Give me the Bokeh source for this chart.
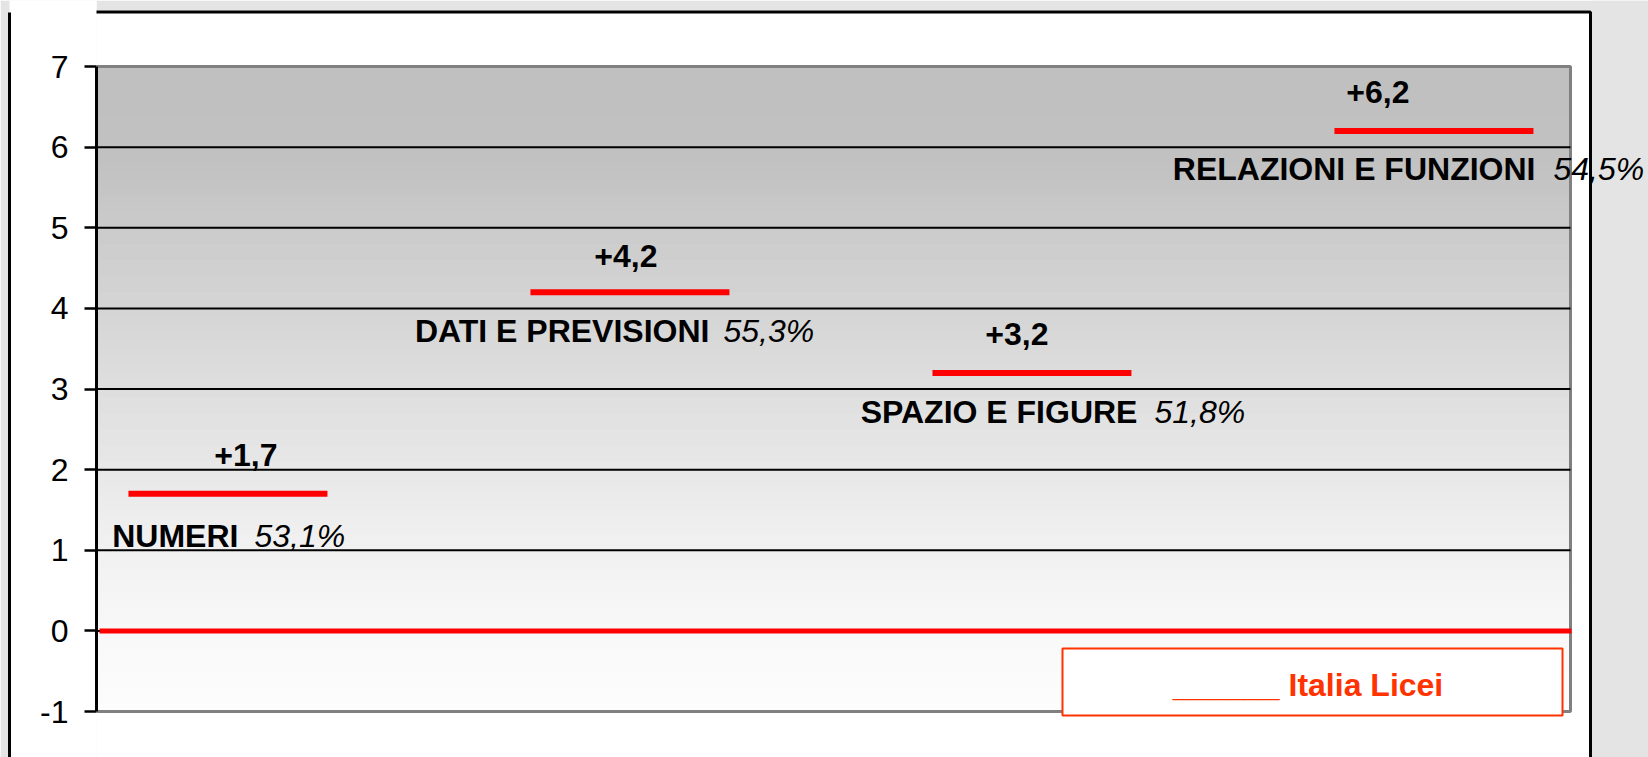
from bokeh.plotting import figure
from bokeh.models import Label, BoxAnnotation, FixedTicker, Range1d, LinearAxis
from bokeh.embed import file_html
from bokeh.resources import INLINE

# ---------------- data ----------------
categories = ["NUMERI", "DATI E PREVISIONI", "SPAZIO E FIGURE", "RELAZIONI E FUNZIONI"]
values = [1.7, 4.2, 3.2, 6.2]
percentages = ["53,1%", "55,3%", "51,8%", "54,5%"]
italia_baseline = 0.0
legend_text = "______  Italia Licei"
y_ticks = [-1, 0, 1, 2, 3, 4, 5, 6, 7]

# ---------------- style ----------------
value_dx = [18, -4, -15, -56]          # px, label centre relative to segment centre
value_dy = [39, 36, 39, 39]            # px above the value (visual centre)
name_end_dx = [10.5, 79.5, 105.5, 101.5]
pct_start_dx = [26.5, 93.5, 122.5, 119.5]
name_dy = [-42, -39, -39.5, -38]
seg_half = 0.2475

FONT = "Liberation Sans"
FS = "32px"
W, H = 1648, 757
OUT_GREY = "#e4e4e4"

# page-pixel <-> data helpers (used only for decorations)
PLOT_L, PLOT_T = 96, 66
PX_X, PX_Y = 402.0, 80.625
X0 = -0.327
def dx(px):
    return X0 + (px - PLOT_L) / PX_X
def dy(py):
    return 7 - (py - PLOT_T) / PX_Y

PLOT_R = dx(1570)

p = figure(width=W, height=H, output_backend="svg", toolbar_location=None,
           x_range=Range1d(dx(PLOT_L), dx(W)), y_range=Range1d(dy(H), dy(0)),
           x_axis_type=None,
           min_border_left=PLOT_L, min_border_right=0, min_border_top=0, min_border_bottom=0)

p.background_fill_color = "white"
p.border_fill_color = "white"
p.outline_line_color = None
p.ygrid.visible = False
p.xgrid.visible = False

# gradient background of the plot area
stops = [(-1.0, 253), (0.0, 248), (1.0, 241), (2.0, 232), (3.0, 222), (4.0, 213), (5.0, 203), (5.8, 193), (7.0, 192)]
def grey_at(y):
    for (y0, c0), (y1, c1) in zip(stops[:-1], stops[1:]):
        if y0 <= y <= y1:
            t = (y - y0) / (y1 - y0)
            return int(round(c0 + (c1 - c0) * t))
    return stops[-1][1]
n = 80
for k in range(n):
    b = -1 + 8 * k / n
    t = -1 + 8 * (k + 1) / n
    g = grey_at((b + t) / 2)
    p.add_layout(BoxAnnotation(bottom=b, top=min(t + 0.02, 7), right=PLOT_R, fill_color=(g, g, g),
                               fill_alpha=1, line_color=None, level="image"))

# grey surroundings (outside the white slide frame)
p.add_layout(BoxAnnotation(left=dx(1591.5), fill_color=OUT_GREY, fill_alpha=1, line_color=None, level="image"))
p.add_layout(BoxAnnotation(bottom=dy(10), fill_color=OUT_GREY, fill_alpha=1, line_color=None, level="image"))

# plot-area border (grey)
p.add_layout(BoxAnnotation(right=PLOT_R, top=7, bottom=-1, fill_color=None, fill_alpha=0,
                           line_color="#808080", line_width=3, line_alpha=1, line_dash="solid", level="underlay"))

# y axis
ax = p.yaxis[0]
ax.ticker = FixedTicker(ticks=y_ticks)
ax.bounds = (-1, 7)
ax.major_label_overrides = {-1: "-1"}
ax.major_label_text_font = FONT
ax.major_label_text_font_size = FS
ax.major_label_text_color = "black"
ax.axis_line_color = "black"
ax.axis_line_width = 3
ax.major_tick_line_color = "black"
ax.major_tick_line_width = 2.5
ax.major_tick_out = 12
ax.major_tick_in = 0
ax.minor_tick_line_color = None
ax.major_label_standoff = 16
ax.axis_label = " "
ax.axis_label_text_font_size = "16px"
ax.axis_label_standoff = 8

# if axes can paint their own background, use it to keep the slide white while the
# strip outside the slide frame becomes grey
if "background_fill_color" in ax.properties():
    ax.background_fill_color = "white"
    ax.background_fill_alpha = 1
    p.border_fill_color = OUT_GREY

# outer slide frame, left edge (a bare axis line)
frame_axis = LinearAxis(ticker=FixedTicker(ticks=[]), bounds=(dy(H + 50), dy(11.5)),
                        axis_line_color="black", axis_line_width=3,
                        major_tick_out=0, major_tick_in=0, minor_tick_out=0, minor_tick_in=0,
                        major_tick_line_color=None, minor_tick_line_color=None,
                        major_label_text_font_size="0px", major_label_standoff=0)
p.add_layout(frame_axis, "left")

# horizontal grid lines
grid_y = [t for t in y_ticks if -1 < t < 7]
p.segment(x0=[dx(PLOT_L)] * len(grid_y), x1=[PLOT_R] * len(grid_y), y0=grid_y, y1=grid_y,
          line_color="black", line_width=2)

# Italia Licei reference line
p.segment(x0=[dx(PLOT_L + 3)], x1=[dx(1571)], y0=[italia_baseline], y1=[italia_baseline],
          line_color="#ff0000", line_width=5)

# segments
xs = list(range(len(categories)))
p.segment(x0=[x - seg_half for x in xs], x1=[x + seg_half for x in xs], y0=values, y1=values,
          line_color="#ff0000", line_width=6, line_cap="butt")

# labels
for i, (cat, v, pct) in enumerate(zip(categories, values, percentages)):
    txt = ("+" if v > 0 else "") + f"{v:.1f}".replace(".", ",")
    p.add_layout(Label(x=i, y=v, x_offset=value_dx[i], y_offset=value_dy[i], text=txt,
                       text_align="center", text_baseline="middle",
                       text_font=FONT, text_font_size=FS, text_font_style="bold", text_color="black"))
    p.add_layout(Label(x=i, y=v, x_offset=name_end_dx[i], y_offset=name_dy[i], text=cat,
                       text_align="right", text_baseline="middle",
                       text_font=FONT, text_font_size=FS, text_font_style="bold", text_color="black"))
    p.add_layout(Label(x=i, y=v, x_offset=pct_start_dx[i], y_offset=name_dy[i], text=pct,
                       text_align="left", text_baseline="middle",
                       text_font=FONT, text_font_size=FS, text_font_style="italic", text_color="black"))

# legend box
lg_l, lg_r, lg_t, lg_b = dx(1062), dx(1562), dy(648), dy(715)
p.add_layout(BoxAnnotation(left=lg_l, right=lg_r, top=lg_t, bottom=lg_b, fill_color="white", fill_alpha=1,
                           line_color="#ff3300", line_width=2, line_alpha=1, line_dash="solid", level="overlay"))
p.add_layout(Label(x=(lg_l + lg_r) / 2, y=dy(684), text=legend_text, text_align="center",
                   text_baseline="middle", text_font=FONT, text_font_size=FS, text_font_style="bold",
                   text_color="#ff3300", level="overlay"))

# outer slide frame, top and right edges
p.add_layout(BoxAnnotation(left=dx(-40), right=dx(1590), top=dy(11.5), bottom=dy(H + 50),
                           fill_color=None, fill_alpha=0, line_color="black", line_width=3,
                           line_alpha=1, line_dash="solid", level="overlay"))

open("out.html", "w").write(file_html(p, INLINE, title="chart"))
